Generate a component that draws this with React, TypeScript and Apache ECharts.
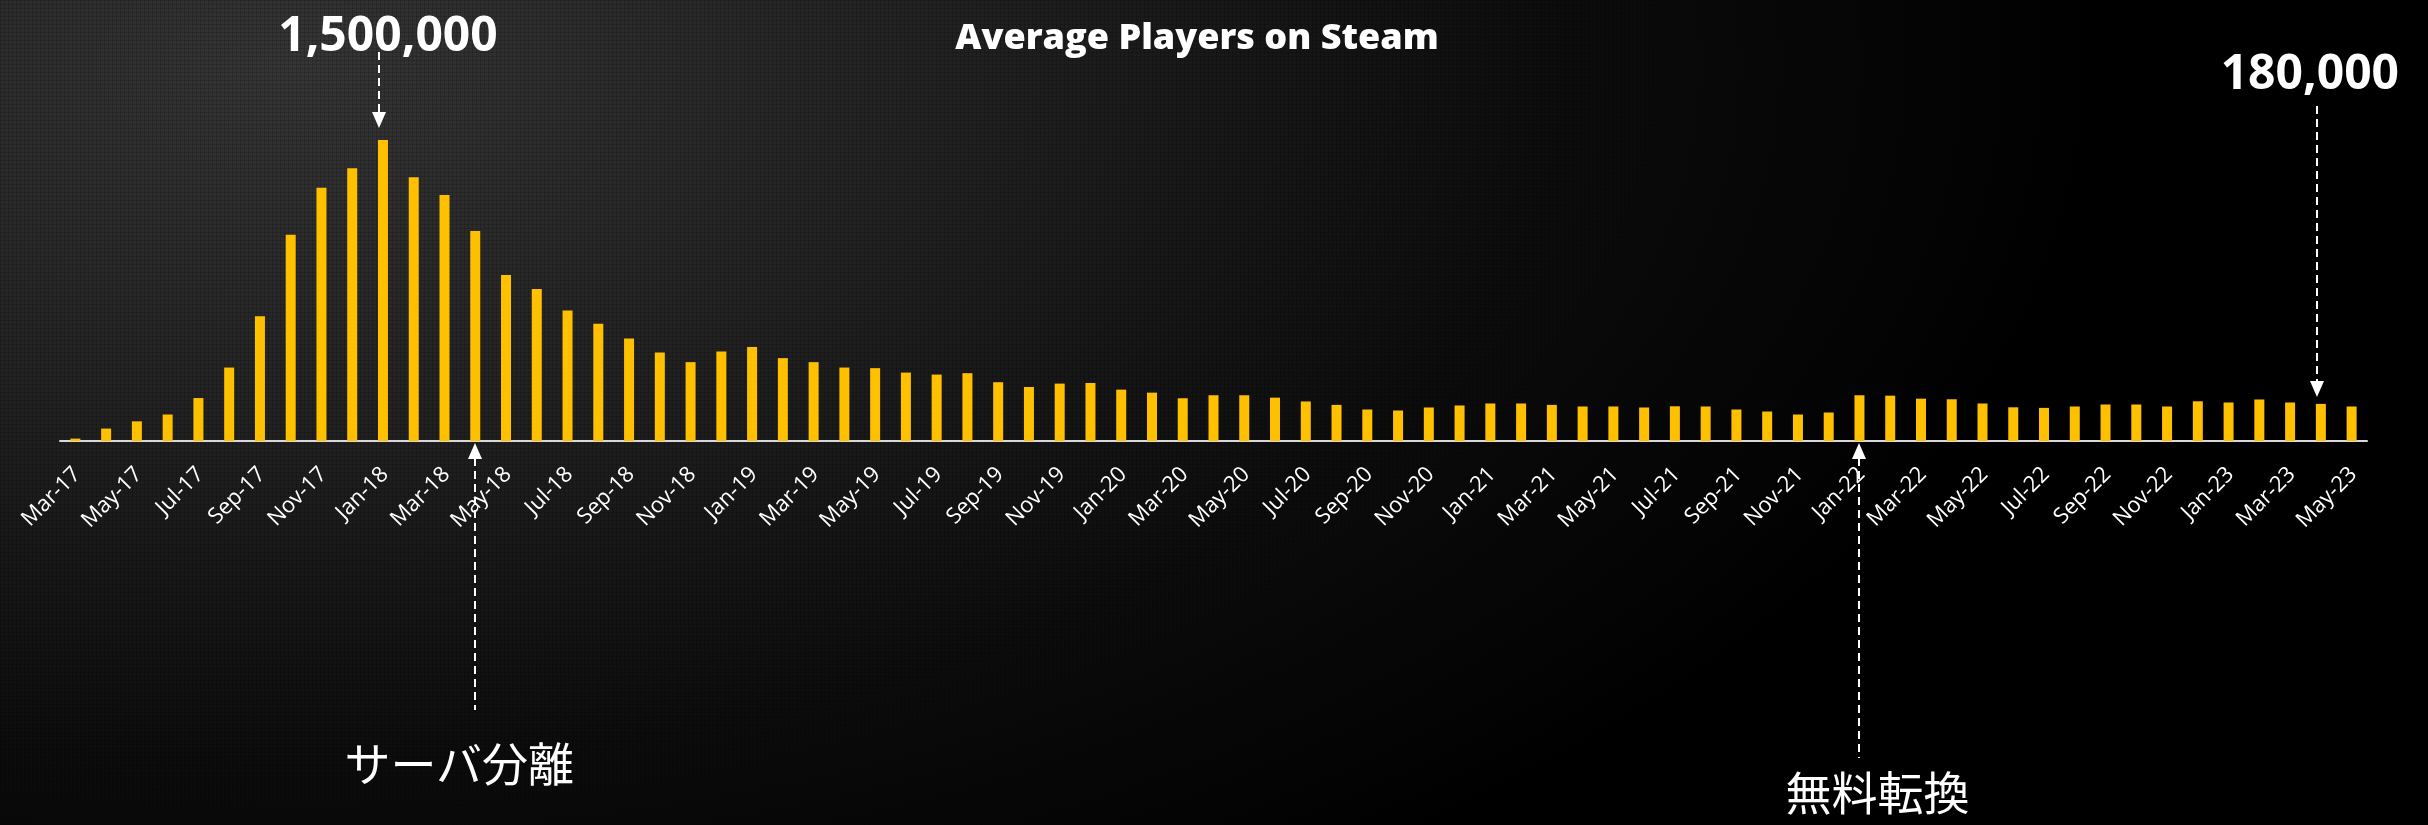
import React, { useEffect, useRef } from "react";
import * as echarts from "echarts";

// ---- data ----
const months = [
  "Mar-17", "Apr-17", "May-17", "Jun-17", "Jul-17", "Aug-17", "Sep-17", "Oct-17", "Nov-17", "Dec-17",
  "Jan-18", "Feb-18", "Mar-18", "Apr-18", "May-18", "Jun-18", "Jul-18", "Aug-18", "Sep-18", "Oct-18", "Nov-18", "Dec-18",
  "Jan-19", "Feb-19", "Mar-19", "Apr-19", "May-19", "Jun-19", "Jul-19", "Aug-19", "Sep-19", "Oct-19", "Nov-19", "Dec-19",
  "Jan-20", "Feb-20", "Mar-20", "Apr-20", "May-20", "Jun-20", "Jul-20", "Aug-20", "Sep-20", "Oct-20", "Nov-20", "Dec-20",
  "Jan-21", "Feb-21", "Mar-21", "Apr-21", "May-21", "Jun-21", "Jul-21", "Aug-21", "Sep-21", "Oct-21", "Nov-21", "Dec-21",
  "Jan-22", "Feb-22", "Mar-22", "Apr-22", "May-22", "Jun-22", "Jul-22", "Aug-22", "Sep-22", "Oct-22", "Nov-22", "Dec-22",
  "Jan-23", "Feb-23", "Mar-23", "Apr-23", "May-23",
];

const avgPlayers = [
  12000, 62000, 98000, 132000, 214000, 366000, 622000, 1028000, 1262000, 1359000,
  1500000, 1314000, 1226000, 1047000, 827000, 757000, 650000, 584000, 511000, 441000, 393000, 446000,
  469000, 413000, 393000, 366000, 363000, 341000, 331000, 338000, 293000, 269000, 286000, 289000,
  256000, 241000, 213000, 228000, 228000, 216000, 197000, 180000, 157000, 152000, 167000, 177000,
  187000, 187000, 180000, 172000, 172000, 167000, 173000, 172000, 157000, 147000, 132000, 142000,
  228000, 226000, 211000, 208000, 187000, 168000, 165000, 172000, 182000, 182000, 172000, 198000,
  192000, 207000, 192000, 185000, 172000,
];

const chartTitle = "Average Players on Steam";
const peakCallouts = ["1,500,000", "180,000"];
const peakCalloutIndex = [10, 73];
const eventNotes = ["サーバ分離", "無料転換"];
const eventIndex = [13, 58];

// ---- layout (pixels) ----
const W = 2428;
const H = 825;
const peakLayout = [
  { textDx: 5, textY: 32, lineTop: 52, gap: 12 },
  { textDx: -11, textY: 70, lineTop: 106, gap: 7 },
];
const eventLayout = [
  { textDx: -16, textY: 761, lineBottom: 710 },
  { textDx: 18, textY: 790, lineBottom: 758 },
];

export default function App() {
  const ref = useRef<HTMLDivElement>(null);

  useEffect(() => {
    if (!ref.current) return;
    const chart = echarts.init(ref.current, null, { renderer: "svg" });
    chart.setOption({
      animation: false,
      backgroundColor: "transparent",
      grid: { left: 60, right: 61, top: 140, bottom: 384, containLabel: false },
      xAxis: {
        type: "category",
        data: months,
        boundaryGap: true,
        axisTick: { show: false },
        axisLine: { show: true, lineStyle: { color: "#d9d9d9", width: 2 } },
        axisLabel: {
          interval: 1,
          rotate: 45,
          margin: 28,
          color: "#ffffff",
          fontSize: 22,
          fontFamily: "'Open Sans', 'Noto Sans', sans-serif",
        },
        splitLine: { show: false },
      },
      yAxis: {
        type: "value",
        min: 0,
        max: 1500000,
        show: false,
        splitLine: { show: false },
      },
      series: [
        {
          type: "bar",
          data: avgPlayers,
          barWidth: 10,
          itemStyle: { color: "#FFC000" },
        },
      ],
    });

    const g: any[] = [];
    const white = "#ffffff";
    g.push({
      type: "text",
      z: 100,
      style: {
        text: chartTitle,
        x: 1197,
        y: 35,
        align: "center",
        verticalAlign: "middle",
        fill: white,
        fontSize: 36,
        fontWeight: 900,
        fontFamily: "'Open Sans', 'Noto Sans', sans-serif",
      },
    });

    peakCallouts.forEach((label, i) => {
      const idx = peakCalloutIndex[i];
      const [px, py] = chart.convertToPixel({ seriesIndex: 0 }, [idx, avgPlayers[idx]]) as number[];
      const L = peakLayout[i];
      const ax = Math.round(px) - 4;
      const tip = py - L.gap;
      g.push({
        type: "text",
        z: 100,
        style: {
          text: label,
          x: px + L.textDx,
          y: L.textY,
          align: "center",
          verticalAlign: "middle",
          fill: white,
          fontSize: 48,
          fontWeight: "bold",
          fontFamily: "'Open Sans', 'Noto Sans', sans-serif",
        },
      });
      g.push({
        type: "line",
        z: 100,
        shape: { x1: ax, y1: L.lineTop, x2: ax, y2: tip - 15 },
        style: { stroke: white, lineWidth: 2, lineDash: [8, 5] },
      });
      g.push({
        type: "polygon",
        z: 100,
        shape: { points: [[ax - 7, tip - 16], [ax + 7, tip - 16], [ax, tip]] },
        style: { fill: white },
      });
    });

    eventNotes.forEach((label, i) => {
      const idx = eventIndex[i];
      const [px, py] = chart.convertToPixel({ seriesIndex: 0 }, [idx, 0]) as number[];
      const L = eventLayout[i];
      const ax = Math.round(px);
      const tip = py + 2;
      g.push({
        type: "polygon",
        z: 100,
        shape: { points: [[ax - 7, tip + 16], [ax + 7, tip + 16], [ax, tip]] },
        style: { fill: white },
      });
      g.push({
        type: "line",
        z: 100,
        shape: { x1: ax, y1: tip + 15, x2: ax, y2: L.lineBottom },
        style: { stroke: white, lineWidth: 2, lineDash: [8, 5] },
      });
      g.push({
        type: "text",
        z: 100,
        style: {
          text: label,
          x: px + L.textDx,
          y: L.textY,
          align: "center",
          verticalAlign: "middle",
          fill: white,
          fontSize: 46,
          fontFamily: "'Noto Sans CJK JP', 'Noto Sans', sans-serif",
        },
      });
    });

    chart.setOption({ graphic: g });

    return () => chart.dispose();
  }, []);

  return (
    <div
      ref={ref}
      style={{
        position: "fixed",
        left: 0,
        top: 0,
        width: W,
        height: H,
        background:
          "repeating-linear-gradient(90deg, rgba(0,0,0,0.16) 0px, rgba(0,0,0,0.16) 1px, rgba(0,0,0,0) 1px, rgba(0,0,0,0) 4px)," +
          "repeating-linear-gradient(0deg, rgba(0,0,0,0.16) 0px, rgba(0,0,0,0.16) 1px, rgba(0,0,0,0) 1px, rgba(0,0,0,0) 4px)," +
          "radial-gradient(ellipse 75% 120% at 12% 8%, #353535 0%, #222222 35%, #0c0c0c 70%, #000000 100%)",
      }}
    />
  );
}
